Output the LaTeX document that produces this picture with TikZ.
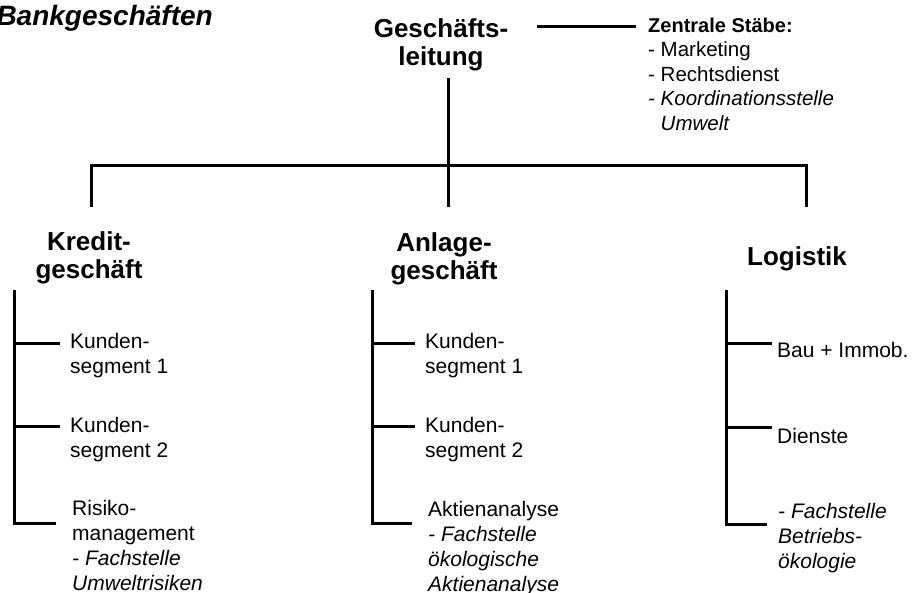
\documentclass[tikz,border=0pt]{standalone}
\usepackage{fontspec}
\setmainfont{Liberation Sans}
\begin{document}
\begin{tikzpicture}[x=1pt,y=-1pt,
  link/.style={line width=3pt},
  heading/.style={font=\bfseries\fontsize{26}{28.5}\selectfont, align=center, anchor=base, inner sep=0pt},
  unit/.style={font=\fontsize{21}{25}\selectfont, align=left, anchor=base west, inner sep=0pt},
  staff/.style={font=\fontsize{20.5}{24.5}\selectfont, align=left, anchor=base west, inner sep=0pt}]
\useasboundingbox (0,0) rectangle (912,592);

% title
\node[font=\bfseries\itshape\fontsize{28}{32}\selectfont, anchor=base east, inner sep=0pt] (title) at (213,25) {Bankgeschäften};

% top management and central staff (multi-line nodes sit on their last baseline)
\node[heading] (gl) at (441,65.5) {Geschäfts-\\leitung};
\node[staff] (zs) at (648,130) {{\bfseries\fontsize{20}{24.5}\selectfont Zentrale Stäbe:}\\- Marketing\\- Rechtsdienst\\\textit{- Koordinationsstelle}\\\hphantom{- }\textit{Umwelt}};
\coordinate (zsA) at (537,26);
\coordinate (zsB) at (636,26);
\draw[link] (zsA) -- (zsB);

% divisions
\node[heading] (kg) at (89,278.5) {Kredit-\\geschäft};
\node[heading] (ag) at (444,279.5) {Anlage-\\geschäft};
\node[heading] (lg) at (797,265) {Logistik};

% main tree
\coordinate (glB) at (448,78);
\coordinate (bL) at (91,165);
\coordinate (bR) at (806,165);
\coordinate (kgT) at (91,207);
\coordinate (agT) at (448,207);
\coordinate (lgT) at (806,207);
\draw[link] (glB) -- (agT);
\draw[link] (kgT) -- (bL) -- (bR) -- (lgT);

% Kreditgeschäft
\node[unit] (k1) at (70,373) {Kunden-\\segment 1};
\node[unit] (k2) at (70,457) {Kunden-\\segment 2};
\node[unit] (k3) at (72,590) {Risiko-\\management\\\textit{- Fachstelle}\\\textit{Umweltrisiken}};
\coordinate (kT) at (14,290);
\coordinate (k1a) at (14,343);
\coordinate (k1b) at (60,343);
\coordinate (k2a) at (14,426);
\coordinate (k2b) at (60,426);
\coordinate (k3b) at (56,523);
\draw[link] (kT) |- (k3b);
\draw[link] (k1a) -- (k1b);
\draw[link] (k2a) -- (k2b);

% Anlagegeschäft
\node[unit] (a1) at (425,373) {Kunden-\\segment 1};
\node[unit] (a2) at (425,457) {Kunden-\\segment 2};
\node[unit] (a3) at (428,591) {Aktienanalyse\\\textit{- Fachstelle}\\\textit{ökologische}\\\textit{Aktienanalyse}};
\coordinate (aT) at (372,290);
\coordinate (a1a) at (372,343);
\coordinate (a1b) at (415,343);
\coordinate (a2a) at (372,426);
\coordinate (a2b) at (415,426);
\coordinate (a3b) at (412,523);
\draw[link] (aT) |- (a3b);
\draw[link] (a1a) -- (a1b);
\draw[link] (a2a) -- (a2b);

% Logistik
\node[unit] (l1) at (777,357) {Bau + Immob.};
\node[unit] (l2) at (777,443) {Dienste};
\node[unit] (l3) at (778,568) {\textit{- Fachstelle}\\\textit{Betriebs-}\\\textit{ökologie}};
\coordinate (lT) at (726,290);
\coordinate (l1a) at (726,343);
\coordinate (l1b) at (772,343);
\coordinate (l2a) at (726,427);
\coordinate (l2b) at (772,427);
\coordinate (l3b) at (767,524);
\draw[link] (lT) |- (l3b);
\draw[link] (l1a) -- (l1b);
\draw[link] (l2a) -- (l2b);
\end{tikzpicture}
\end{document}
